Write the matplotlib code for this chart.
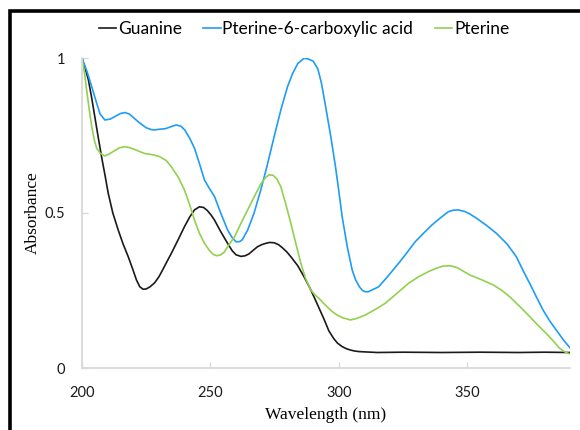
import matplotlib
matplotlib.use('Agg')
import matplotlib.pyplot as plt
from matplotlib.patches import Rectangle

# wavelength (nm) / absorbance
guanine_wl = [200, 201.3, 202.5, 203.8, 205, 206.3, 207.6, 209, 210.2, 212, 214.1, 216, 218,
              219.7, 221.2, 222.5, 223.8, 225, 226.5, 228.3, 230, 231.5, 233, 234.8, 237.5,
              239.9, 242, 243.8, 245.7, 247.3, 248.8, 250.2, 251.6, 254, 256.7, 258.5, 260,
              261.9, 263.5, 265, 266.7, 268.3, 270, 271.5, 273, 274.8, 276.5, 278, 279.8,
              281.3, 284, 286.4, 288.5, 290.3, 292.2, 294.2, 296.1, 298, 299.5, 301.3, 303,
              304.5, 306, 307.8, 310, 315, 325, 340, 355, 370, 380, 390]
guanine_abs = [1.0, 0.965, 0.929, 0.87, 0.81, 0.745, 0.682, 0.62, 0.564, 0.50, 0.445, 0.40, 0.359,
               0.32, 0.284, 0.262, 0.254, 0.255, 0.262, 0.275, 0.295, 0.318, 0.342, 0.37, 0.415,
               0.456, 0.488, 0.51, 0.52, 0.518, 0.508, 0.494, 0.477, 0.44, 0.402, 0.378, 0.365,
               0.36, 0.362, 0.368, 0.38, 0.391, 0.398, 0.402, 0.405, 0.404, 0.398, 0.388, 0.374,
               0.359, 0.33, 0.295, 0.262, 0.23, 0.195, 0.158, 0.12, 0.095, 0.08, 0.069, 0.062,
               0.058, 0.055, 0.053, 0.052, 0.05, 0.051, 0.05, 0.051, 0.05, 0.051, 0.05]

p6c_wl = [200, 202, 203.8, 205.5, 207, 208.9, 211, 213, 215, 216.7, 218.5, 220, 221.8, 223.5,
          225, 227, 228.3, 230, 232.5, 234.5, 236.7, 238.5, 240, 242, 243.8, 245.7, 247.7,
          249.7, 251.6, 254, 256.7, 258.5, 260, 261.5, 262.5, 264.5, 267, 269.6, 272, 274.8,
          277.5, 280, 282, 284, 286.4, 288, 290, 291.8, 293.2, 294.5, 296.8, 298.7, 300,
          301.3, 303.3, 305.2, 306.5, 308, 309.2, 310.3, 311.5, 313, 315.5, 319, 323.3, 326.5,
          329.7, 333, 336.2, 339.5, 342.6, 344.5, 346.5, 349, 351, 353.6, 357.5, 361.4, 365.5,
          369.1, 372, 374.3, 377, 379.5, 382, 384.6, 387.5, 390]
p6c_abs = [1.0, 0.955, 0.907, 0.86, 0.82, 0.80, 0.803, 0.812, 0.821, 0.824, 0.819, 0.808, 0.795,
           0.784, 0.775, 0.769, 0.768, 0.77, 0.772, 0.778, 0.784, 0.78, 0.768, 0.74, 0.709, 0.66,
           0.606, 0.578, 0.553, 0.50, 0.445, 0.42, 0.407, 0.408, 0.415, 0.445, 0.50, 0.574, 0.65,
           0.746, 0.835, 0.907, 0.95, 0.982, 0.999, 0.997, 0.99, 0.965, 0.92, 0.86, 0.75, 0.649,
           0.57, 0.488, 0.39, 0.316, 0.285, 0.262, 0.25, 0.246, 0.246, 0.252, 0.262, 0.295,
           0.338, 0.372, 0.407, 0.435, 0.461, 0.484, 0.504, 0.509, 0.51, 0.505, 0.497, 0.483,
           0.46, 0.434, 0.40, 0.359, 0.31, 0.273, 0.228, 0.187, 0.153, 0.123, 0.09, 0.065]

pterine_wl = [200, 201, 201.8, 202.8, 203.8, 204.8, 205.7, 207.2, 208.9, 210.5, 212.5, 214.5,
              216.7, 218.5, 220.5, 222.5, 224.4, 227.5, 230.2, 232.7, 234.8, 237.5, 239.9, 242,
              243.8, 245.7, 247.7, 249.7, 251.2, 252.5, 254, 255.5, 256.7, 259.5, 261.9, 264.5,
              267.1, 269.5, 271.5, 272.9, 274.3, 275.8, 277.4, 279.3, 281.3, 283.3, 285.2, 287,
              289, 290.8, 292.2, 294.5, 297.4, 299.5, 301.5, 304.5, 307, 310.3, 314, 318.1,
              322.5, 327.1, 331, 334.9, 338, 340.7, 343.3, 346, 351, 355.5, 360.1, 363.5, 366.5,
              370.5, 374.3, 377.5, 380.7, 383.5, 385.9, 388, 390]
pterine_abs = [1.0, 0.95, 0.897, 0.835, 0.778, 0.735, 0.709, 0.692, 0.684, 0.69, 0.70, 0.71,
               0.714, 0.711, 0.705, 0.698, 0.692, 0.688, 0.682, 0.67, 0.649, 0.615, 0.574, 0.525,
               0.477, 0.435, 0.402, 0.378, 0.366, 0.362, 0.365, 0.375, 0.391, 0.425, 0.467, 0.51,
               0.553, 0.592, 0.615, 0.623, 0.622, 0.611, 0.585, 0.53, 0.467, 0.40, 0.338, 0.29,
               0.252, 0.235, 0.225, 0.205, 0.182, 0.17, 0.162, 0.155, 0.16, 0.171, 0.188, 0.209,
               0.24, 0.273, 0.294, 0.311, 0.322, 0.329, 0.33, 0.324, 0.30, 0.285, 0.268, 0.25,
               0.23, 0.198, 0.166, 0.138, 0.112, 0.087, 0.064, 0.052, 0.045]

labels = ['Guanine', 'Pterine-6-carboxylic acid', 'Pterine']
colors = ['#1a1a1a', '#1f9cf5', '#92d050']
xticks = [200, 250, 300, 350]
yticks = [0, 0.5, 1]
ytick_labels = ['0', '0.5', '1']

fig = plt.figure(figsize=(5.8, 4.3), dpi=100)
ax = fig.add_axes([82 / 580, 62 / 430, 488 / 580, 310 / 430])

series = [(guanine_wl, guanine_abs), (p6c_wl, p6c_abs), (pterine_wl, pterine_abs)]
for (wl, ab), lab, c in zip(series, labels, colors):
    ax.plot(wl, ab, color=c, lw=1.2, label=lab)

ax.set_xlim(200, 390)
ax.set_ylim(0, 1)
ax.set_xticks(xticks)
ax.set_yticks(yticks)
ax.set_yticklabels(ytick_labels)

for side in ['top', 'right']:
    ax.spines[side].set_visible(False)
for side in ['left', 'bottom']:
    ax.spines[side].set_color('#d9d9d9')
    ax.spines[side].set_linewidth(1.3)

ax.tick_params(axis='both', direction='in', length=4, width=1, color='#d9d9d9',
               labelsize=10.5, labelcolor='#1a1a1a')
ax.tick_params(axis='x', pad=13)
ax.tick_params(axis='y', pad=12)
for t in ax.get_xticklabels() + ax.get_yticklabels():
    t.set_fontfamily('Lato')

ax.set_xlabel('Wavelength (nm)', fontfamily='Liberation Serif', fontsize=12.5, labelpad=5)
ax.set_ylabel('Absorbance', fontfamily='Liberation Serif', fontsize=12.5, labelpad=3)

fig.legend(loc='center', bbox_to_anchor=(304 / 580, 1 - 29 / 430), ncol=3, frameon=False,
           handlelength=1.0, handletextpad=0.1, columnspacing=1.25,
           prop={'family': 'Lato', 'size': 12.5})

# black frame around the chart (only left/top visible in the crop)
fig.add_artist(Rectangle((9.5 / 580, -0.5), 2, 0.5 + (430 - 11) / 430,
                         transform=fig.transFigure, fill=False, lw=2.6,
                         edgecolor='black', clip_on=False))

fig.savefig('out.png', dpi=100)
